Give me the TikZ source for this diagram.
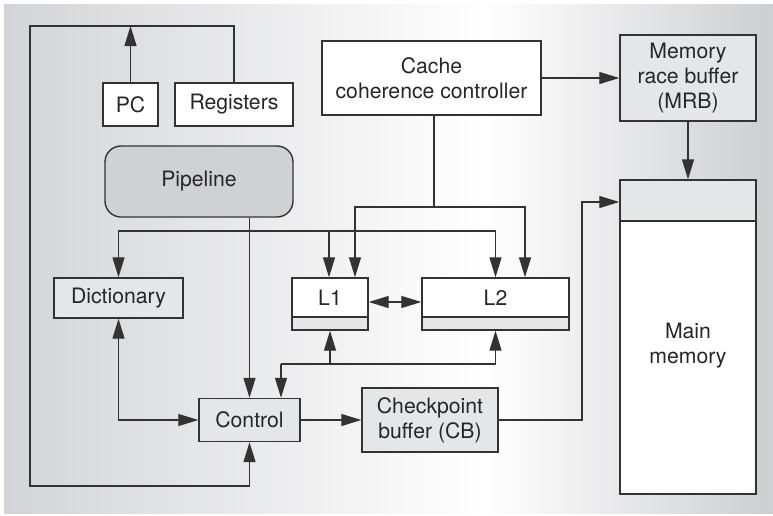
\documentclass[tikz,border=0pt]{standalone}
\usepackage{fontspec}
\setmainfont{TeX Gyre Heros}
\usetikzlibrary{arrows.meta}
\definecolor{linec}{HTML}{333333}
\definecolor{txt}{HTML}{262626}
\definecolor{bgL}{HTML}{D3D4D7}
\definecolor{bgR}{HTML}{CDCED1}
\definecolor{lightbox}{HTML}{E5E6E8}
\definecolor{pipefill}{HTML}{D0D1D3}
\begin{document}
\begin{tikzpicture}[x=1pt,y=-1pt,
  font=\fontsize{21.2}{25}\selectfont,
  box/.style={draw=linec, line width=1.4pt, inner sep=0pt, align=center, text=txt},
  wbox/.style={box, fill=white},
  gbox/.style={box, fill=lightbox},
  conn/.style={draw=linec, line width=1.3pt},
  >={Triangle[length=20pt,width=12pt]}]
\useasboundingbox (0,0) rectangle (773,515);
\shade[left color=bgL, right color=white] (4,4) rectangle (485,513);
\shade[left color=white, right color=bgR] (485,4) rectangle (773,513);

% nodes
\node[wbox, minimum width=55pt, minimum height=43pt] (pc) at (130.5,104.5) {PC};
\node[wbox, minimum width=118pt, minimum height=43pt] (reg) at (234,104.5) {Registers};
\node[box, fill=pipefill, rounded corners=16pt, minimum width=188pt, minimum height=71pt] (pipe) at (199,181.5) {Pipeline};
\node[wbox, minimum width=219pt, minimum height=74pt] (ccc) at (431.5,78) {Cache\\coherence controller};
\node[gbox, minimum width=136pt, minimum height=86pt] (mrb) at (688,78) {Memory\\race buffer\\(MRB)};
\node[gbox, minimum width=136pt, minimum height=41pt] (memh) at (688,200.5) {};
\node[wbox, minimum width=136pt, minimum height=273pt] (mem) at (688,357.5) {};
\node[inner sep=0pt, align=center, text=txt] (memt) at (688,346) {Main\\memory};
\node[gbox, minimum width=129pt, minimum height=40pt] (dict) at (118.5,298) {Dictionary};
\node[wbox, minimum width=76pt, minimum height=39pt] (l1) at (330,297.5) {L1};
\node[gbox, minimum width=76pt, minimum height=13pt] (l1s) at (330,323.5) {};
\node[wbox, minimum width=147pt, minimum height=39pt] (l2) at (495.5,297.5) {L2};
\node[gbox, minimum width=147pt, minimum height=13pt] (l2s) at (495.5,323.5) {};
\node[gbox, minimum width=101pt, minimum height=43pt] (ctrl) at (249.5,420) {Control};
\node[gbox, minimum width=136pt, minimum height=64pt] (cb) at (430,420) {Checkpoint\\buffer (CB)};

% coordinates
\coordinate (tl) at (30,26);
\coordinate (bl) at (30,486);
\coordinate (pj) at (250,231);
\coordinate (cj) at (434,207);
\coordinate (lj) at (281,364);
\coordinate (mt) at (582,202);

% outer loop
\draw[conn,->] (reg.north) |- (tl) -- (bl) -| (ctrl.south);
\draw[conn,->] (pc.north) -- (pc.north |- tl);

% pipeline
\draw[conn,->] (pipe.south -| ctrl.north) -- (ctrl.north);
\draw[conn,->] (pj) -| (dict.north);
\draw[conn,->] (pj) -| ([xshift=-1pt]l1.north);
\draw[conn,->] (pj) -| (l2.north);

% cache coherence controller
\draw[conn] (ccc.south -| cj) -- (cj);
\draw[conn,->] (cj) -| ([xshift=25pt]l1.north);
\draw[conn,->] (cj) -| ([xshift=29.5pt]l2.north);
\draw[conn,->] (ccc.east) -- (mrb.west);
\draw[conn,->] (mrb.south) -- (memh.north);

% L1 <-> L2
\draw[conn,<->] ([yshift=-4.5pt]l1.east) -- ([yshift=-4.5pt]l2.west);

% control connections
\draw[conn,->] (lj) -- (lj |- ctrl.north);
\draw[conn,->] (lj) -| (l1s.south);
\draw[conn,->] (lj) -| (l2s.south);
\draw[conn,<->] (dict.south) |- (ctrl.west);
\draw[conn,->] (ctrl.east) -- (cb.west);
\draw[conn,->] (cb.east) -| (mt) -- (memh.west |- mt);
\end{tikzpicture}
\end{document}
